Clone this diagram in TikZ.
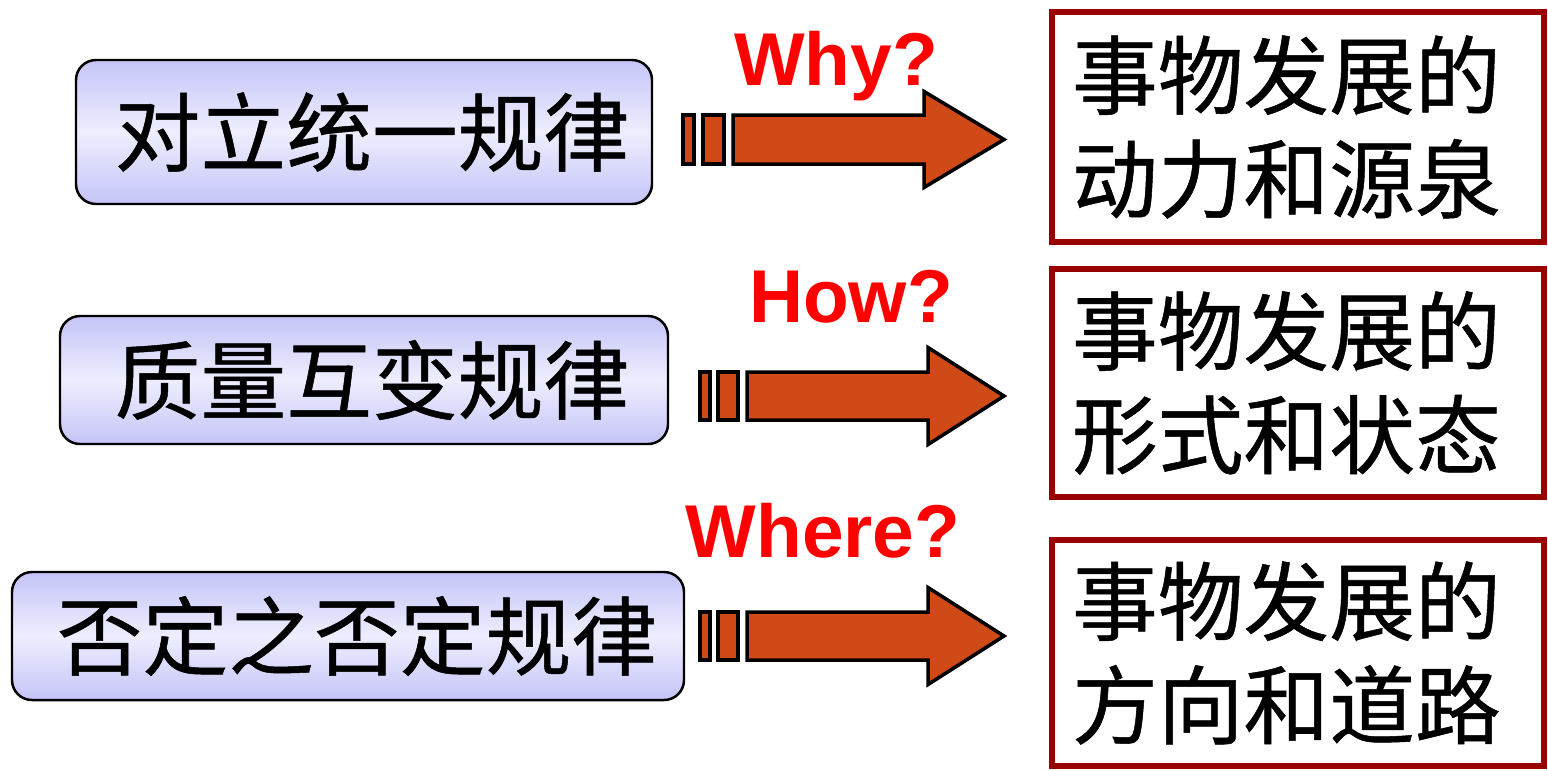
\documentclass[tikz,border=0pt]{standalone}
\usepackage{fontspec}
\setmainfont{Liberation Sans}
\newfontfamily\cjk[FakeBold=0.6]{Noto Sans CJK SC}
\definecolor{lavdark}{RGB}{196,196,248}
\definecolor{lavlight}{RGB}{238,238,255}
\definecolor{arroworange}{RGB}{208,74,24}
\definecolor{boxred}{RGB}{153,0,0}
\begin{document}
\begin{tikzpicture}%
[lawbox/.style={draw, line width=0.7pt, rounded corners=0.2cm, top color=lavdark,%
  bottom color=lavdark, middle color=lavlight, inner sep=0pt,%
  font=\cjk\fontsize{24.4}{29}\selectfont},%
resbox/.style={draw=boxred, line width=0.06cm, fill=white, text width=4.52cm,%
  inner xsep=0.2cm, inner ysep=0pt, align=left, font=\cjk\fontsize{24.4}{29.5}\selectfont},%
blockarrow/.style={draw, line width=1pt, fill=arroworange, line join=miter},%
question/.style={text=red, font=\bfseries\fontsize{21.3}{24}\selectfont, anchor=base}]

\useasboundingbox (0,0) rectangle (15.48,-7.70);

\node[lawbox, minimum width=5.76cm, minimum height=1.44cm] (law1) at (3.64,-1.32) {\hspace*{0.16cm}对立统一规律};
\node[lawbox, minimum width=6.08cm, minimum height=1.28cm] (law2) at (3.64,-3.80) {\hspace*{0.16cm}质量互变规律};
\node[lawbox, minimum width=6.72cm, minimum height=1.28cm] (law3) at (3.48,-6.36) {\hspace*{0.18cm}否定之否定规律};

\node[resbox, minimum height=2.30cm] (res1) at (12.98,-1.27) {事物发展的\\动力和源泉};
\node[resbox, minimum height=2.28cm] (res2) at (12.98,-3.83) {事物发展的\\形式和状态};
\node[resbox, minimum height=2.26cm] (res3) at (12.98,-6.53) {事物发展的\\方向和道路};

\coordinate (arr1) at (7.33,-1.395);
\coordinate (arr2) at (7.47,-3.96);
\coordinate (arr3) at (7.47,-6.36);

\draw[blockarrow] (arr1) ++(-0.50,0.245) rectangle ++(0.11,-0.49);
\draw[blockarrow] (arr1) ++(-0.30,0.245) rectangle ++(0.21,-0.49);
\draw[blockarrow] (arr1) ++(0,0.245) -- ++(1.91,0) -- ++(0,0.235) -- ++(0.80,-0.48)
  -- ++(-0.80,-0.48) -- ++(0,0.235) -- ++(-1.91,0) -- cycle;

\draw[blockarrow] (arr2) ++(-0.47,0.24) rectangle ++(0.10,-0.48);
\draw[blockarrow] (arr2) ++(-0.29,0.24) rectangle ++(0.20,-0.48);
\draw[blockarrow] (arr2) ++(0,0.24) -- ++(1.81,0) -- ++(0,0.245) -- ++(0.76,-0.485)
  -- ++(-0.76,-0.485) -- ++(0,0.245) -- ++(-1.81,0) -- cycle;

\draw[blockarrow] (arr3) ++(-0.47,0.24) rectangle ++(0.10,-0.48);
\draw[blockarrow] (arr3) ++(-0.29,0.24) rectangle ++(0.20,-0.48);
\draw[blockarrow] (arr3) ++(0,0.24) -- ++(1.81,0) -- ++(0,0.245) -- ++(0.76,-0.485)
  -- ++(-0.76,-0.485) -- ++(0,0.245) -- ++(-1.81,0) -- cycle;

\node[question] (why) at (8.36,-0.85) {Why?};
\node[question] (how) at (8.51,-3.22) {How?};
\node[question] (where) at (8.23,-5.57) {Where?};
\end{tikzpicture}
\end{document}
